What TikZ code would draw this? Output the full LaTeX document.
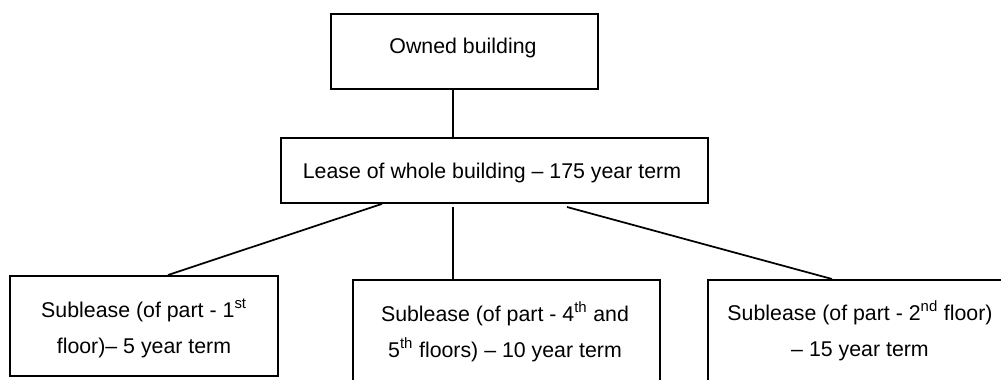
\documentclass[tikz,border=0pt]{standalone}
\usepackage{fontspec}
\setmainfont{Liberation Sans}
\begin{document}
\begin{tikzpicture}[x=0.75pt,y=-0.75pt,
  box/.style={draw=black,line width=1.4pt,rectangle,inner sep=0pt,anchor=north west},
  conn/.style={draw=black,line width=1.3pt},
  lbl/.style={inner sep=0pt,align=center,font=\fontsize{16}{27}\selectfont}]
\useasboundingbox (0,0) rectangle (1001,379);
\clip (0,0) rectangle (1001,379);
% boxes
\node[box,minimum width=200.25pt,minimum height=56.25pt] (own) at (330,13) {};
\node[box,minimum width=320.25pt,minimum height=48.75pt] (lease) at (280,137) {};
\node[box,minimum width=201pt,minimum height=75pt] (left) at (9,275) {};
\node[box,minimum width=230.25pt,minimum height=90.75pt] (mid) at (352,279) {};
\node[box,minimum width=234.75pt,minimum height=90.75pt] (right) at (707,279) {};
% texts
\node[lbl,anchor=base] (tOwn) at (463,53) {Owned building};
\node[lbl,anchor=base] (tLease) at (492,178) {Lease of whole building – 175 year term};
\node[lbl,anchor=base] (tLeft) at (144,353) {Sublease (of part - 1\textsuperscript{st}\\floor)– 5 year term};
\node[lbl,anchor=base] (tMid) at (505,357) {Sublease (of part - 4\textsuperscript{th} and\\5\textsuperscript{th} floors) – 10 year term};
\node[lbl,anchor=base] (tRight) at (860,356) {Sublease (of part - 2\textsuperscript{nd} floor)\\– 15 year term};
% connector end points
\coordinate (ownB) at (own.south -| 453,0);
\coordinate (leaseT) at (lease.north -| 453,0);
\coordinate (leaseL) at (lease.south -| 382,0);
\coordinate (leaseM) at (453,207);
\coordinate (leaseR) at (567,207);
\coordinate (leftT) at (left.north -| 168,0);
\coordinate (midT) at (mid.north -| 453,0);
\coordinate (rightT) at (right.north -| 832,0);
% connectors
\draw[conn] (ownB) -- (leaseT);
\draw[conn] (leaseL) -- (leftT);
\draw[conn] (leaseM) -- (midT);
\draw[conn] (leaseR) -- (rightT);
\end{tikzpicture}
\end{document}
